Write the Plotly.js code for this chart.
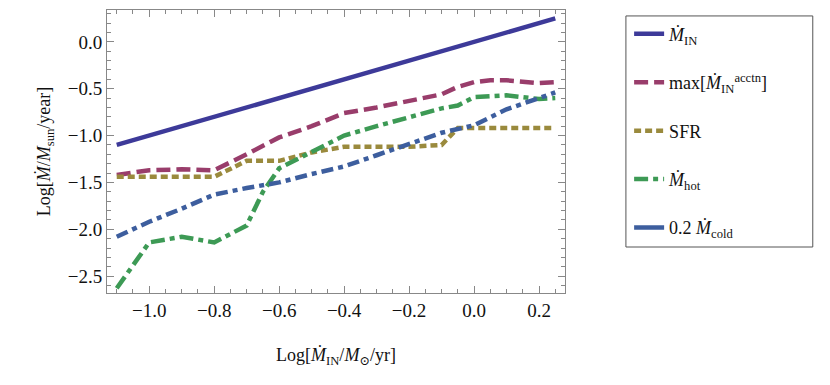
<!DOCTYPE html>
<html>
<head>
<meta charset="utf-8">
<script src="https://cdn.plot.ly/plotly-3.0.1.min.js"></script>
<style>body{margin:0;background:#fff}</style>
</head>
<body>
<div id="chart" style="width:830px;height:385px"></div>
<script>
// x = Log[Mdot_IN / Msun / yr]
var xIn = [-1.1, 0.25];
var yIn = [-1.1, 0.25];

var xAcc = [-1.1, -1.0, -0.9, -0.8, -0.7, -0.6, -0.5, -0.4, -0.3, -0.2, -0.1, -0.05, 0.0, 0.05, 0.1, 0.2, 0.25];
var yAcc = [-1.42, -1.37, -1.36, -1.37, -1.2, -1.02, -0.9, -0.76, -0.7, -0.63, -0.56, -0.48, -0.43, -0.41, -0.41, -0.44, -0.43];

var xSfr = [-1.1, -1.0, -0.9, -0.8, -0.7, -0.6, -0.5, -0.4, -0.3, -0.2, -0.1, -0.05, 0.0, 0.1, 0.2, 0.25];
var ySfr = [-1.44, -1.44, -1.44, -1.44, -1.27, -1.27, -1.18, -1.12, -1.12, -1.12, -1.1, -0.92, -0.92, -0.92, -0.93, -0.92];

var xHot = [-1.1, -1.0, -0.9, -0.8, -0.7, -0.65, -0.6, -0.5, -0.4, -0.3, -0.2, -0.1, -0.05, 0.0, 0.1, 0.2, 0.25];
var yHot = [-2.63, -2.14, -2.08, -2.14, -1.96, -1.6, -1.35, -1.17, -1.0, -0.9, -0.8, -0.71, -0.68, -0.59, -0.57, -0.61, -0.6];

var xCold = [-1.1, -1.0, -0.9, -0.8, -0.7, -0.6, -0.5, -0.4, -0.3, -0.2, -0.1, 0.0, 0.1, 0.2, 0.25];
var yCold = [-2.08, -1.92, -1.78, -1.63, -1.56, -1.5, -1.41, -1.33, -1.21, -1.09, -0.97, -0.89, -0.72, -0.6, -0.54];

var names = [
  "<i>Ṁ</i><sub>IN</sub>",
  "max[<i>Ṁ</i><sub>IN</sub><sup>acctn</sup>]",
  "SFR",
  "<i>Ṁ</i><sub>hot</sub>",
  "0.2 <i>Ṁ</i><sub>cold</sub>"
];
var colors = ["#3d3a99", "#993d6b", "#9a8a3d", "#3d9a55", "#3d5e9e"];
var serif = "Liberation Serif, Times New Roman, DejaVu Serif, serif";

var data = [
  {x: xIn, y: yIn, name: names[0], legendgroup: "a", mode: "lines",
   line: {color: colors[0], width: 4.5}},
  {x: xAcc, y: yAcc, name: names[1], legendgroup: "b", mode: "lines",
   line: {color: colors[1], width: 4.5, dash: "14px,6px"}},
  {x: xSfr, y: ySfr, name: names[2], legendgroup: "c", mode: "lines",
   line: {color: colors[2], width: 4.5, dash: "7px,4px"}},
  {x: xHot, y: yHot, name: names[3], legendgroup: "d", mode: "lines",
   line: {color: colors[3], width: 4.5, dash: "14px,5px,5px,5px"}},
  {x: xCold, y: yCold, name: names[4], showlegend: false, mode: "lines",
   line: {color: colors[4], width: 4.5, dash: "12px,5px,5px,5px"}},
  // legend entry drawn solid, as in the original
  {x: [null], y: [null], name: names[4], legendgroup: "e", mode: "lines",
   line: {color: colors[4], width: 4.5}}
];

var axisCommon = {
  showgrid: false, zeroline: false,
  showline: true, linecolor: "#888", linewidth: 1, mirror: "ticks",
  ticks: "inside", ticklen: 7, tickcolor: "#888",
  tickfont: {family: serif, size: 19, color: "#111"}
};

var layout = {
  width: 830, height: 385,
  margin: {l: 107, r: 265, t: 10, b: 92},
  paper_bgcolor: "#fff", plot_bgcolor: "#fff",
  font: {family: serif, color: "#111"},
  xaxis: Object.assign({}, axisCommon, {
    range: [-1.13, 0.28], tickvals: [-1.0, -0.8, -0.6, -0.4, -0.2, 0.0, 0.2],
    ticktext: ["−1.0", "−0.8", "−0.6", "−0.4", "−0.2", "0.0", "0.2"],
    minor: {dtick: 0.05, ticks: "inside", ticklen: 4, tickcolor: "#888"},
    title: {text: "Log[<i>Ṁ</i><sub>IN</sub>/<i>M</i><sub>⊙</sub>/yr]", font: {family: serif, size: 18}, standoff: 28}
  }),
  yaxis: Object.assign({}, axisCommon, {
    range: [-2.68, 0.34], tickvals: [-2.5, -2.0, -1.5, -1.0, -0.5, 0.0],
    ticktext: ["−2.5", "−2.0", "−1.5", "−1.0", "−0.5", "0.0"],
    minor: {dtick: 0.1, ticks: "inside", ticklen: 4, tickcolor: "#888"},
    title: {text: "Log[<i>Ṁ</i>/<i>M</i><sub>sun</sub>/year]", font: {family: serif, size: 18}, standoff: 12}
  }),
  legend: {
    x: 1.14, y: 0.98, xanchor: "left", yanchor: "top",
    borderwidth: 0, bgcolor: "rgba(0,0,0,0)",
    font: {family: serif, size: 18, color: "#111"},
    traceorder: "grouped", tracegroupgap: 22
  },
  // legend frame, wider than Plotly's own box as in the original
  shapes: [{
    type: "rect", xref: "paper", yref: "paper", layer: "below",
    x0: 1.133, x1: 1.541, y0: 0.1625, y1: 0.979,
    line: {color: "#555", width: 1}, fillcolor: "rgba(0,0,0,0)"
  }]
};

Plotly.newPlot("chart", data, layout, {displayModeBar: false});
</script>
</body>
</html>
